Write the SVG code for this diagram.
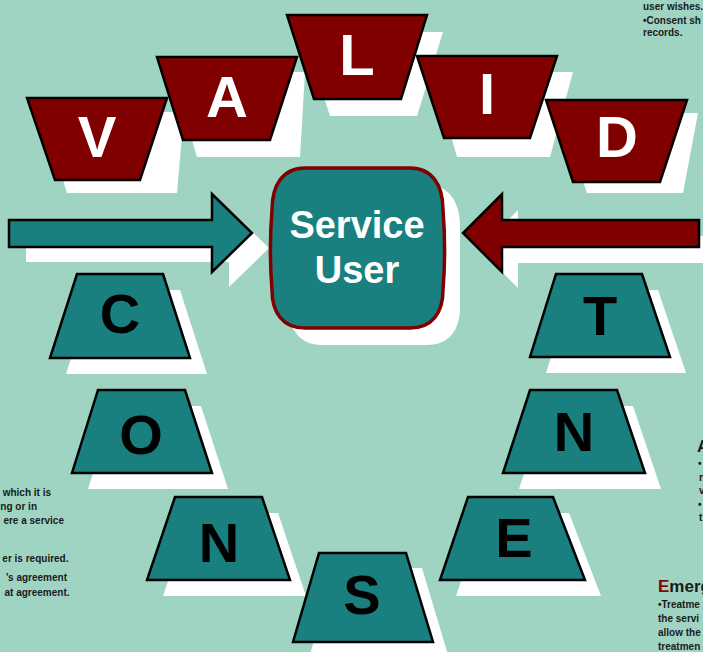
<svg xmlns="http://www.w3.org/2000/svg" width="703" height="652" viewBox="0 0 703 652">
<style>
.bg{fill:#9FD4C3}
.sh{fill:#FFFFFF}
.mar{fill:#800000;stroke:#000;stroke-width:2.5;stroke-linejoin:miter}
.teal{fill:#1A7F7F;stroke:#000;stroke-width:2.5;stroke-linejoin:miter}
.wl{font-family:"Liberation Sans",Arial,sans-serif;font-weight:bold;font-size:58px;fill:#FFFFFF;text-anchor:middle}
.bl{font-family:"Liberation Sans",Arial,sans-serif;font-weight:bold;font-size:56px;fill:#000000;text-anchor:middle}
.su{font-family:"Liberation Sans",Arial,sans-serif;font-weight:bold;font-size:38px;fill:#FFFFFF;text-anchor:middle}
.sm{font-family:"Liberation Sans",Arial,sans-serif;font-weight:bold;font-size:10px;fill:#1a1a1a}
.hd{font-family:"Liberation Sans",Arial,sans-serif;font-weight:bold;font-size:17px;fill:#1a1a1a}
</style>
<rect class="bg" x="0" y="0" width="703" height="652"/>

<g id="shadows">
  <polygon class="sh" points="42,112 184,112 177,193 67,193"/>
  <polygon class="sh" points="172,72 305,72 300,157 197,157"/>
  <polygon class="sh" points="303,32 443,32 417,116 330,116"/>
  <polygon class="sh" points="433,72 573,72 550,157 457,157"/>
  <polygon class="sh" points="560,113 698,113 683,193 587,193"/>
  <polygon class="sh" points="93,290 180,290 207,374 66,374"/>
  <polygon class="sh" points="114,406 201,406 228,489 88,489"/>
  <polygon class="sh" points="191,513 278,513 306,596 163,596"/>
  <polygon class="sh" points="335,568 422,568 449,658 309,658"/>
  <polygon class="sh" points="484,513 569,513 601,596 456,596"/>
  <polygon class="sh" points="546,406 633,406 661,489 519,489"/>
  <polygon class="sh" points="572,290 658,290 686,373 546,373"/>
  <polygon class="sh" points="26,235 229,235 229,209 269,248 229,287 229,262 26,262"/>
  <polygon class="sh" points="716,236 518,236 518,210 479,249 518,288 518,263 716,263"/>
  <path class="sh" d="M322,185 H427 C449,185 460,202 460,227 V307 C460,330 449,345 427,345 H322 C300,345 289,330 289,307 V227 C289,202 300,185 322,185 Z"/>
</g>

<g id="connectors">
  <polygon id="arrow-left" class="teal" stroke-width="3" points="9,220 212,220 212,194 252,233 212,272 212,247 9,247"/>
  <polygon id="arrow-right" class="mar" stroke-width="3" points="699,220 502,220 502,194 463,233 502,272 502,247 699,247"/>
</g>

<g id="service-user">
  <path d="M305,168 H410 C432,168 443,185 443,210 C445,235 445,265 443,290 C443,313 432,328 410,328 H305 C283,328 272,313 272,290 C270,265 270,235 272,210 C272,185 283,168 305,168 Z" fill="#1A7F7F" stroke="#800000" stroke-width="3.5"/>
  <text class="su" x="357" y="238">Service</text>
  <text class="su" x="357" y="283">User</text>
</g>

<g id="node-V"><polygon class="mar" points="27,98 167,98 140,180 55,180"/><text class="wl" x="97" y="157">V</text></g>
<g id="node-A"><polygon class="mar" points="157,57 297,57 270,140 183,140"/><text class="wl" x="227" y="117">A</text></g>
<g id="node-L"><polygon class="mar" points="287,15 427,15 401,99 314,99"/><text class="wl" x="357" y="75">L</text></g>
<g id="node-I"><polygon class="mar" points="417,56 557,56 530,138 444,138"/><text class="wl" x="487" y="114">I</text></g>
<g id="node-D"><polygon class="mar" points="546,100 687,100 660,182 573,182"/><text class="wl" x="617" y="157">D</text></g>

<g id="node-C"><polygon class="teal" points="77,274 163,274 190,358 50,358"/><text class="bl" x="120" y="333">C</text></g>
<g id="node-O"><polygon class="teal" points="98,390 185,390 212,473 72,473"/><text class="bl" x="141" y="454">O</text></g>
<g id="node-N1"><polygon class="teal" points="175,497 262,497 290,580 147,580"/><text class="bl" x="219" y="562">N</text></g>
<g id="node-S"><polygon class="teal" points="319,553 406,553 433,642 293,642"/><text class="bl" x="362" y="614">S</text></g>
<g id="node-E"><polygon class="teal" points="468,497 553,497 585,580 440,580"/><text class="bl" x="514" y="557">E</text></g>
<g id="node-N2"><polygon class="teal" points="530,390 617,390 645,473 503,473"/><text class="bl" x="574" y="451">N</text></g>
<g id="node-T"><polygon class="teal" points="556,274 642,274 670,357 530,357"/><text class="bl" x="600" y="335">T</text></g>

<g id="side-texts">
  <text class="sm" x="643" y="10">user wishes.</text>
  <text class="sm" x="643" y="23.5">•Consent sh</text>
  <text class="sm" x="643" y="36">records.</text>

  <text class="sm" x="51" y="496" text-anchor="end">which it is</text>
  <text class="sm" x="37" y="509.5" text-anchor="end">ng or in</text>
  <text class="sm" x="64" y="524" text-anchor="end">ere a service</text>
  <text class="sm" x="68.5" y="561.5" text-anchor="end">er is required.</text>
  <text class="sm" x="67" y="581" text-anchor="end">’s agreement</text>
  <text class="sm" x="69.5" y="596" text-anchor="end">at agreement.</text>

  <text class="hd" x="697" y="452">A</text>
  <text class="sm" x="698" y="467">•</text>
  <text class="sm" x="699" y="480.5">n</text>
  <text class="sm" x="699" y="494">v</text>
  <text class="sm" x="698" y="507.5">•</text>
  <text class="sm" x="699" y="521">t</text>

  <text class="hd" x="658" y="592"><tspan fill="#8B0000">E</tspan>merg</text>
  <text class="sm" x="658" y="608">•Treatme</text>
  <text class="sm" x="658" y="622">the servi</text>
  <text class="sm" x="658" y="636">allow the</text>
  <text class="sm" x="658" y="650">treatmen</text>
</g>
</svg>
